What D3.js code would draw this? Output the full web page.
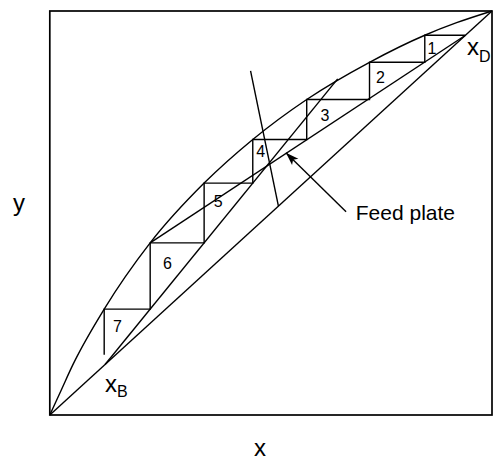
<!DOCTYPE html>
<html>
<head>
<meta charset="utf-8">
<script src="https://cdn.jsdelivr.net/npm/d3@7"></script>
<style>
    body { margin: 0; background: #fff; }
    text { font-family: "Liberation Sans", Arial, sans-serif; fill: #000; }
</style>
</head>
<body>
<svg id="svgID" width="494" height="462"></svg>
<script>
let svg = d3.select("#svgID");
let width = +svg.attr("width");
let height = +svg.attr("height");

//! DATA (mole fractions)
let eqX = [0, 0.026, 0.052, 0.123, 0.227, 0.349, 0.459, 0.581, 0.723, 0.848, 0.920, 1];
let eqY = [0, 0.062, 0.124, 0.262, 0.426, 0.574, 0.682, 0.781, 0.873, 0.940, 0.971, 1];

let xD = 0.94;
let xB = 0.125;

// stage corners on the equilibrium curve
let stageX = [0.848, 0.723, 0.581, 0.459, 0.349, 0.227, 0.123];
let stageY = [0.940, 0.873, 0.781, 0.682, 0.574, 0.426, 0.262];
let lastY = 0.149;

let stageLabels = ["1", "2", "3", "4", "5", "6", "7"];
let labelX = [0.864, 0.748, 0.622, 0.477, 0.381, 0.266, 0.153];
let labelY = [0.908, 0.837, 0.743, 0.652, 0.528, 0.375, 0.220];

let rectX = [xD, 0.227];
let rectY = [xD, 0.426];
let stripX = [xB, 0.651];
let stripY = [xB, 0.832];
let feedX = [0.517, 0.454];
let feedY = [0.517, 0.852];

let arrowX = [0.670, 0.534];
let arrowY = [0.503, 0.649];
let feedText = { x: 0.692, y: 0.483, label: "Feed plate" };

//? Scales
let x = d3.scaleLinear().domain([0, 1]).range([49.8, 492]);
let y = d3.scaleLinear().domain([0, 1]).range([415, 11]);

let line = d3.line().x(d => x(d[0])).y(d => y(d[1]));

//? Arrow marker
svg.append("defs")
    .append("marker")
    .attr("id", "arrow")
    .attr("markerUnits", "userSpaceOnUse")
    .attr("viewBox", "-14 -6 16 12")
    .attr("markerWidth", 16)
    .attr("markerHeight", 12)
    .attr("refX", 0)
    .attr("refY", 0)
    .attr("orient", "auto")
    .append("path")
    .attr("d", "M0,0 L-13,-4.5 L-10,0 L-13,4.5 Z")
    .attr("fill", "black");

let g = svg.append("g")
    .attr("fill", "none")
    .attr("stroke", "black")
    .attr("stroke-width", 1.4);

//? Frame
g.append("rect")
    .attr("x", x(0))
    .attr("y", y(1))
    .attr("width", x(1) - x(0))
    .attr("height", y(0) - y(1))
    .attr("stroke-width", 1.7);

//? Diagonal
g.append("path").attr("d", line([[0, 0], [1, 1]]));

//? Equilibrium curve
g.append("path")
    .attr("d", d3.line()
        .x((d, i) => x(eqX[i]))
        .y((d, i) => y(eqY[i]))
        .curve(d3.curveMonotoneX)(eqX));

//? Operating lines and q-line
g.append("path").attr("d", line(rectX.map((v, i) => [v, rectY[i]])));
g.append("path").attr("d", line(stripX.map((v, i) => [v, stripY[i]])));
g.append("path").attr("d", line(feedX.map((v, i) => [v, feedY[i]])));

//? Staircase
let steps = [[xD, stageY[0]]];
stageX.forEach(function (sx, i) {
    steps.push([sx, stageY[i]]);
    steps.push([sx, i + 1 < stageY.length ? stageY[i + 1] : lastY]);
});
g.append("path").attr("d", line(steps));

//? Feed plate arrow
g.append("path")
    .attr("d", line(arrowX.map((v, i) => [v, arrowY[i]])))
    .attr("marker-end", "url(#arrow)");

//? Text elements
svg.append("g")
    .selectAll("text")
    .data(stageLabels)
    .enter()
    .append("text")
    .attr("x", (d, i) => x(labelX[i]))
    .attr("y", (d, i) => y(labelY[i]))
    .attr("dy", "0.36em")
    .attr("text-anchor", "middle")
    .attr("font-size", 16)
    .text(d => d);

svg.append("text")
    .attr("x", x(feedText.x))
    .attr("y", y(feedText.y))
    .attr("font-size", 21)
    .text(feedText.label);

let xd = svg.append("text")
    .attr("x", 467)
    .attr("y", 55)
    .attr("font-size", 24);
xd.append("tspan").text("x");
xd.append("tspan").attr("font-size", 16).attr("dy", 6.5).text("D");

let xb = svg.append("text")
    .attr("x", 105)
    .attr("y", 391.5)
    .attr("font-size", 24);
xb.append("tspan").text("x");
xb.append("tspan").attr("font-size", 16).attr("dy", 5.5).text("B");

svg.append("text")
    .attr("x", 260)
    .attr("y", 456)
    .attr("text-anchor", "middle")
    .attr("font-size", 24)
    .text("x");

svg.append("text")
    .attr("x", 19)
    .attr("y", 211)
    .attr("text-anchor", "middle")
    .attr("font-size", 24)
    .text("y");
</script>
</body>
</html>
